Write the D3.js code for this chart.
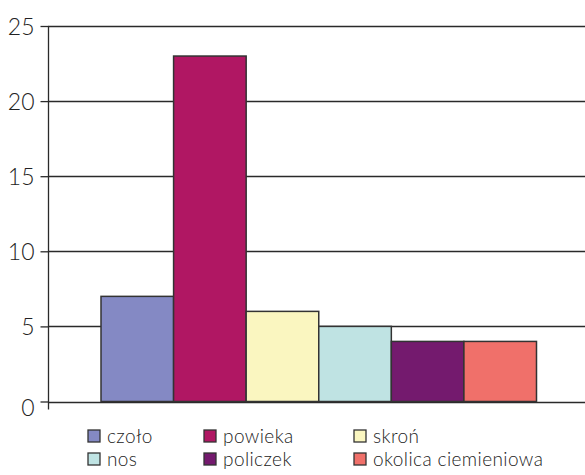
<!DOCTYPE html>
<html>
<head>
<meta charset="utf-8">
<script src="https://cdn.jsdelivr.net/npm/d3@7"></script>
<style>
  html, body { margin: 0; padding: 0; background: #fff; }
  svg { display: block; font-family: Lato, "Open Sans", sans-serif; }
</style>
</head>
<body>
<svg id="chart" width="585" height="475"></svg>
<script>
// Body regions and their counts
const categories = ["czoło", "powieka", "skroń", "nos", "policzek", "okolica ciemieniowa"];
const counts = [7, 23, 6, 5, 4, 4];
const colors = ["#8489c4", "#b01763", "#faf6c0", "#bfe3e3", "#741a6e", "#f0706a"];
const yTicks = [0, 5, 10, 15, 20, 25];

const svg = d3.select("#chart");
const axisX = 48;

const x = d3.scaleBand().domain(categories).range([101, 536.5]).padding(0);
const y = d3.scaleLinear().domain([0, 25]).range([401.5, 26]);

// horizontal gridlines across the plot
svg.append("g")
  .selectAll("line")
  .data(yTicks)
  .join("line")
  .attr("x1", axisX).attr("x2", 585)
  .attr("y1", d => Math.round(y(d)) + 0.5)
  .attr("y2", d => Math.round(y(d)) + 0.5)
  .attr("stroke", "#2a2a2a")
  .attr("stroke-width", 1.3);

// bars
svg.append("g")
  .selectAll("rect")
  .data(categories)
  .join("rect")
  .attr("x", d => x(d))
  .attr("y", (d, i) => y(counts[i]))
  .attr("width", x.bandwidth())
  .attr("height", (d, i) => y(0) - y(counts[i]))
  .attr("fill", (d, i) => colors[i])
  .attr("stroke", "#333")
  .attr("stroke-width", 1.5);

// y axis
const yAxis = d3.axisLeft(y)
  .tickValues(yTicks)
  .tickSize(8)
  .tickPadding(6)
  .tickFormat(d3.format("d"));

const gy = svg.append("g")
  .attr("transform", `translate(${axisX + 0.5},0)`)
  .call(yAxis);
gy.select(".domain").remove();
gy.selectAll(".tick line").attr("stroke", "#2a2a2a").attr("stroke-width", 1.3);
gy.selectAll(".tick text")
  .attr("font-size", 23)
  .attr("font-family", "Lato, sans-serif")
  .attr("font-weight", 300)
  .attr("fill", "#222")
  .attr("dy", d => d === 0 ? "0.62em" : "0.36em");

// vertical axis line, running slightly below zero
svg.append("line")
  .attr("x1", axisX + 0.5).attr("x2", axisX + 0.5)
  .attr("y1", y(25)).attr("y2", y(0) + 8)
  .attr("stroke", "#2a2a2a")
  .attr("stroke-width", 1.3);

// legend, 3 columns by 2 rows
const colX = [88, 204, 354];
const rowY = [430, 453];
const legend = svg.append("g")
  .selectAll("g")
  .data(categories)
  .join("g")
  .attr("transform", (d, i) => `translate(${colX[i % 3]},${rowY[Math.floor(i / 3)]})`);

legend.append("rect")
  .attr("width", 12).attr("height", 12)
  .attr("fill", (d, i) => colors[i])
  .attr("stroke", "#333")
  .attr("stroke-width", 1.3);

legend.append("text")
  .attr("x", 19)
  .attr("y", 12.5)
  .attr("font-size", 19)
  .attr("font-weight", 300)
  .attr("letter-spacing", 0.4)
  .attr("fill", "#222")
  .text(d => d);
</script>
</body>
</html>
